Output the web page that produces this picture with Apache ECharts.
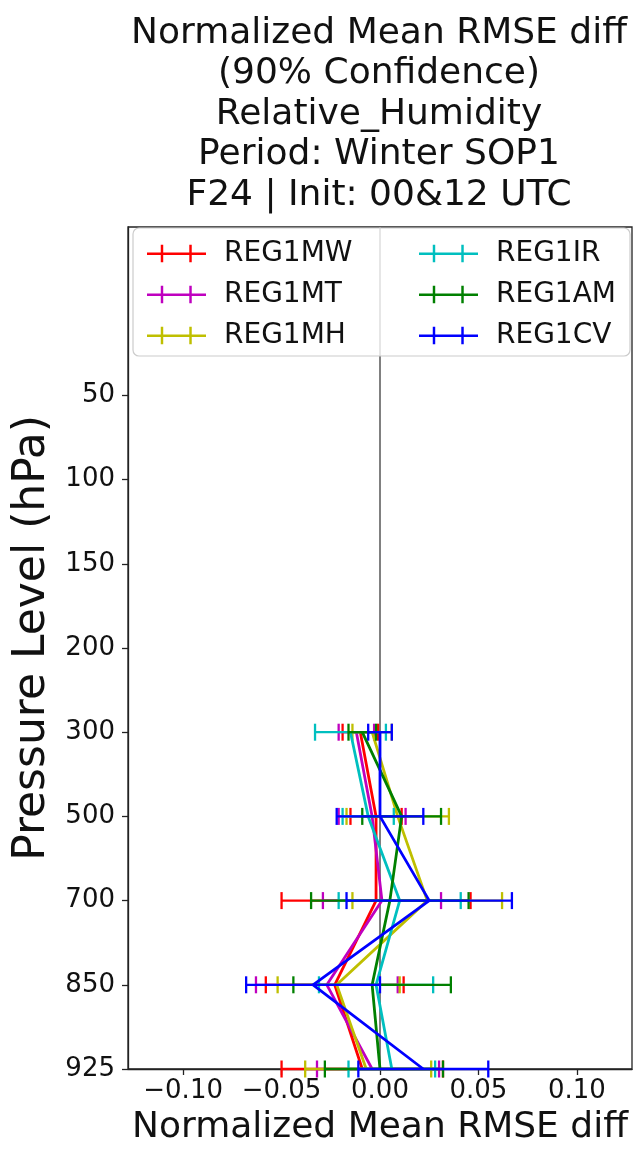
<!DOCTYPE html>
<html>
<head>
<meta charset="utf-8">
<script src="https://cdn.jsdelivr.net/npm/echarts@6/dist/echarts.min.js"></script>
<style>html,body{margin:0;padding:0;background:#fff}#c{width:634px;height:1151px}</style>
</head>
<body>
<div id="c"></div>
<script>
// ---- data ----
const levelLabels = ['50', '100', '150', '200', '300', '500', '700', '850', '925'];
const dataLevelIdx = [4, 5, 6, 7, 8]; // 300, 500, 700, 850, 925
const xTicks = [-0.10, -0.05, 0.00, 0.05, 0.10];
const seriesNames = ['REG1MW', 'REG1MT', 'REG1MH', 'REG1IR', 'REG1AM', 'REG1CV'];
const seriesColors = ['#ff0000', '#bf00bf', '#bfbf00', '#00bfbf', '#008000', '#0000ff'];

const meanMW = [-0.010, -0.002, -0.002, -0.023, -0.009];
const meanMT = [-0.012, -0.004, 0.001, -0.027, -0.004];
const meanMH = [-0.004, 0.009, 0.024, -0.022, -0.007];
const meanIR = [-0.015, -0.006, 0.010, -0.002, 0.006];
const meanAM = [-0.009, 0.011, 0.005, -0.004, 0.000];
const meanCV = [0.000, 0.000, 0.025, -0.034, 0.022];

const loMW = [-0.019, -0.015, -0.050, -0.058, -0.050];
const hiMW = [-0.001, 0.011, 0.046, 0.012, 0.032];
const loMT = [-0.021, -0.021, -0.029, -0.063, -0.032];
const hiMT = [-0.003, 0.013, 0.031, 0.009, 0.030];
const loMH = [-0.014, -0.017, -0.014, -0.052, -0.038];
const hiMH = [0.006, 0.035, 0.062, 0.010, 0.026];
const loIR = [-0.033, -0.019, -0.021, -0.031, -0.016];
const hiIR = [0.003, 0.007, 0.041, 0.027, 0.028];
const loAM = [-0.016, -0.009, -0.035, -0.044, -0.028];
const hiAM = [-0.002, 0.031, 0.045, 0.036, 0.032];
const loCV = [-0.006, -0.022, -0.017, -0.068, -0.011];
const hiCV = [0.006, 0.022, 0.067, 0.000, 0.055];

const titleLines = ['Normalized Mean RMSE diff', '(90% Confidence)', 'Relative_Humidity', 'Period: Winter SOP1', 'F24 | Init: 00&12 UTC'];

const means = [meanMW, meanMT, meanMH, meanIR, meanAM, meanCV];
const los = [loMW, loMT, loMH, loIR, loAM, loCV];
const his = [hiMW, hiMT, hiMH, hiIR, hiAM, hiCV];

// ---- chart ----
const FONT = 'DejaVu Sans';
const chart = echarts.init(document.getElementById('c'), null, {renderer: 'canvas'});
const fmtX = v => {
  const s = Math.abs(v).toFixed(2);
  return v < -1e-9 ? '\u2212' + s : s;
};
const handleIcon = 'path://M0 8 L60 8 L60 10.5 L0 10.5 Z M14 0 L16.5 0 L16.5 18 L14 18 Z M43 0 L45.5 0 L45.5 18 L43 18 Z';

const series = [];
series.push({
  type: 'line', name: 'zero', silent: true, symbol: 'none',
  data: [[0, -2], [0, 8]],
  lineStyle: {color: '#808080', width: 2}, z: 1
});
seriesNames.forEach((name, s) => {
  const color = seriesColors[s];
  series.push({
    type: 'custom', name: name, z: 2 + s * 0.01,
    itemStyle: {color: color},
    data: dataLevelIdx.map((idx, i) => [los[s][i], his[s][i], idx]),
    renderItem: (params, api) => {
      const p1 = api.coord([api.value(0), api.value(2)]);
      const p2 = api.coord([api.value(1), api.value(2)]);
      const h = 8.5;
      const st = {stroke: color, lineWidth: 2.3};
      return {type: 'group', children: [
        {type: 'line', shape: {x1: p1[0], y1: p1[1], x2: p2[0], y2: p2[1]}, style: st},
        {type: 'line', shape: {x1: p1[0], y1: p1[1] - h, x2: p1[0], y2: p1[1] + h}, style: st},
        {type: 'line', shape: {x1: p2[0], y1: p2[1] - h, x2: p2[0], y2: p2[1] + h}, style: st}
      ]};
    }
  });
  series.push({
    type: 'line', name: name, symbol: 'none', z: 2 + s * 0.01,
    data: dataLevelIdx.map((idx, i) => [means[s][i], idx]),
    lineStyle: {color: color, width: 2.8},
    itemStyle: {color: color}
  });
});

const legendText = {fontFamily: FONT, fontSize: 28, color: '#111', lineHeight: 27, padding: [0, 0, 0, 13]};
const option = {
  animation: false,
  backgroundColor: '#fff',
  title: {
    text: titleLines.join('\n'),
    left: 374, top: 8, textAlign: 'center',
    textStyle: {fontFamily: FONT, fontSize: 36, lineHeight: 40.5, fontWeight: 'normal', color: '#111'}
  },
  grid: {left: 128, right: 2, top: 227, bottom: 80, show: true, borderColor: '#222', borderWidth: 1.3, backgroundColor: 'transparent'},
  xAxis: {
    type: 'value', min: -0.128, max: 0.128,
    axisLine: {show: true, onZero: false, lineStyle: {color: '#222', width: 1.3}},
    axisTick: {show: true, length: 6, customValues: xTicks, lineStyle: {color: '#222', width: 1.3}},
    axisLabel: {customValues: xTicks, formatter: fmtX, fontFamily: FONT, fontSize: 26, color: '#111', margin: 9},
    splitLine: {show: false},
    name: 'Normalized Mean RMSE diff', nameLocation: 'middle', nameGap: 41,
    nameTextStyle: {fontFamily: FONT, fontSize: 36, color: '#111'}
  },
  yAxis: {
    type: 'value', inverse: true, min: -2, max: 8, interval: 1,
    axisLine: {show: true, onZero: false, lineStyle: {color: '#222', width: 1.3}},
    axisTick: {show: true, length: 6, customValues: [0, 1, 2, 3, 4, 5, 6, 7, 8], lineStyle: {color: '#222', width: 1.3}},
    axisLabel: {customValues: [0, 1, 2, 3, 4, 5, 6, 7, 8], formatter: v => levelLabels[Math.round(v)] || '', fontFamily: FONT, fontSize: 26, color: '#111', margin: 13},
    splitLine: {show: false},
    name: 'Pressure Level (hPa)', nameLocation: 'middle', nameRotate: 90, nameGap: 69,
    nameTextStyle: {fontFamily: FONT, fontSize: 44, color: '#111', padding: [0, 0, 0, 20]}
  },
  legend: [
    {data: seriesNames.slice(0, 3).map(n => ({name: n, icon: handleIcon})), orient: 'vertical', left: 142, top: 234.5,
     itemWidth: 59, itemHeight: 18, itemGap: 13, textStyle: legendText, selectedMode: false},
    {data: seriesNames.slice(3).map(n => ({name: n, icon: handleIcon})), orient: 'vertical', left: 414, top: 234.5,
     itemWidth: 59, itemHeight: 18, itemGap: 13, textStyle: legendText, selectedMode: false}
  ],
  graphic: [{
    type: 'rect', z: 3, silent: true,
    shape: {x: 133, y: 228, width: 497, height: 128, r: 6},
    style: {fill: 'rgba(255,255,255,0.8)', stroke: '#cccccc', lineWidth: 1.2}
  }],
  series: series
};
chart.setOption(option);
</script>
</body>
</html>
